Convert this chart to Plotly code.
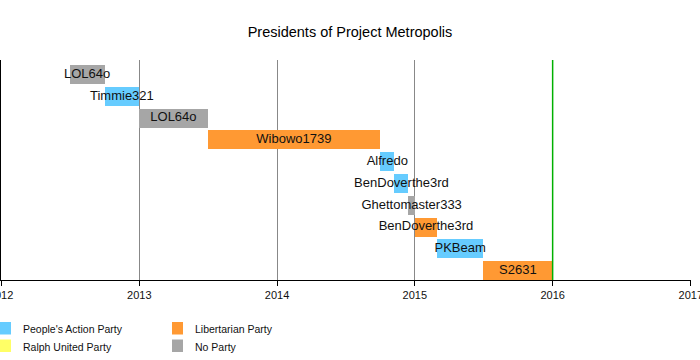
import pandas as pd
import plotly.graph_objects as go

# ---- data ----
presidents = ["LOL64o", "Timmie321", "LOL64o", "Wibowo1739", "Alfredo",
              "BenDoverthe3rd", "Ghettomaster333", "BenDoverthe3rd", "PKBeam", "S2631"]
start_dates = ["2012-07-01", "2012-10-01", "2013-01-01", "2013-07-01", "2014-10-01",
               "2014-11-08", "2014-12-15", "2015-01-01", "2015-03-01", "2015-07-01"]
end_dates = ["2012-10-01", "2013-01-01", "2013-07-01", "2014-10-01", "2014-11-08",
             "2014-12-15", "2015-01-01", "2015-03-01", "2015-07-01", "2016-01-01"]
parties_of_term = ["No Party", "People's Action Party", "No Party", "Libertarian Party",
                   "People's Action Party", "People's Action Party", "No Party",
                   "Libertarian Party", "People's Action Party", "Libertarian Party"]

legend_parties = ["People's Action Party", "Ralph United Party", "Libertarian Party", "No Party"]
party_colors = {"People's Action Party": "#66ccff", "Ralph United Party": "#ffff66",
                "Libertarian Party": "#ff9933", "No Party": "#a6a6a6"}
now_line = "2016-01-01"
axis_start, axis_end = "2011-12-31 18:00", "2017-01-01 12:00"
title_text = "Presidents of Project Metropolis"

# ---- build ----
starts = pd.to_datetime(start_dates)
ends = pd.to_datetime(end_dates)
durations_ms = [(e - s).total_seconds() * 1000 for s, e in zip(starts, ends)]
mids = [s + (e - s) / 2 for s, e in zip(starts, ends)]
rows = list(range(len(presidents)))
colors = [party_colors[p] for p in parties_of_term]

W, H = 700, 360
ML, MR, MT, MB = 1, 9, 60, 80
PW, PH = W - ML - MR, H - MT - MB

FONT = "Liberation Sans, Arial, sans-serif"

fig = go.Figure()
fig.add_trace(go.Bar(
    orientation="h", y=rows, x=durations_ms, base=[s.strftime("%Y-%m-%d") for s in starts],
    marker=dict(color=colors, line=dict(width=0)), width=0.87,
    hoverinfo="skip", showlegend=False,
))
fig.add_trace(go.Scatter(
    x=mids, y=rows, mode="text", text=presidents,
    textposition="middle center",
    textfont=dict(family=FONT, size=13, color="#111111"),
    hoverinfo="skip", showlegend=False, cliponaxis=False,
))

# "now" line
fig.add_shape(type="line", xref="x", yref="paper", x0=now_line, x1=now_line, y0=0, y1=1,
              line=dict(color="#00b000", width=1.5), layer="above")

# manual legend
def px_x(px):
    return (px - ML) / PW

def px_y(py):
    return (MT + PH - py) / PH

col_x = [0, 172]
row_y = [322, 339.5]
for i, party in enumerate(legend_parties):
    c, r = i // 2, i % 2
    x0 = col_x[c]
    y0 = row_y[r]
    fig.add_shape(type="rect", xref="paper", yref="paper",
                  x0=px_x(x0), x1=px_x(x0 + 11), y0=px_y(y0), y1=px_y(y0 + 12.5),
                  fillcolor=party_colors[party], line=dict(width=0))
    fig.add_annotation(xref="paper", yref="paper", x=px_x(x0 + 21), y=px_y(y0 + 7),
                       xanchor="left", yanchor="middle", showarrow=False, text=party,
                       font=dict(family=FONT, size=10.5, color="#111111"))

fig.update_layout(
    width=W, height=H,
    margin=dict(l=ML, r=MR, t=MT, b=MB, autoexpand=False),
    paper_bgcolor="white", plot_bgcolor="white",
    showlegend=False,
    title=dict(text=title_text, x=0.5, xanchor="center", y=(H - 32) / H, yanchor="middle",
               yref="container",
               font=dict(family=FONT, size=14.5, color="#000000")),
    xaxis=dict(type="date", range=[axis_start, axis_end], dtick="M12", tickformat="%Y",
               tick0="2012-01-01", ticklabeloverflow="allow",
               showgrid=True, gridcolor="#888888", gridwidth=1,
               showline=True, linecolor="#000000", linewidth=1,
               ticks="outside", ticklen=5, tickcolor="#000000", tickwidth=1,
               tickfont=dict(family=FONT, size=11, color="#111111"),
               zeroline=False, fixedrange=True, automargin=False),
    yaxis=dict(range=[9.43, -0.665], showticklabels=False, showgrid=False, zeroline=False,
               showline=True, linecolor="#000000", linewidth=1, ticks="", fixedrange=True,
               automargin=False),
    bargap=0,
)

fig.write_html("out.html", config={"displayModeBar": False},
               post_script="document.body.style.margin='0px';")
